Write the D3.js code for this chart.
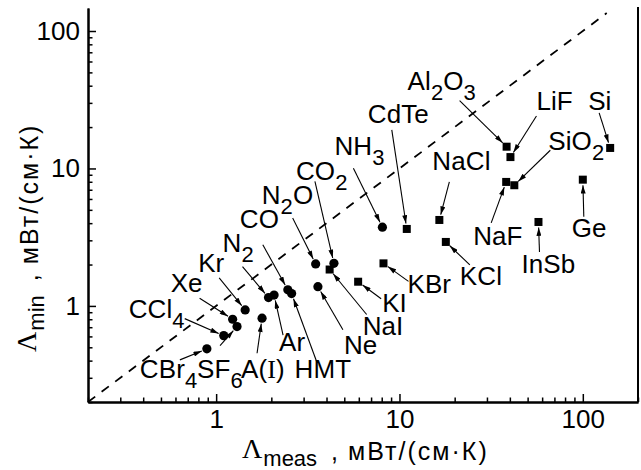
<!DOCTYPE html>
<html>
<head>
<meta charset="utf-8">
<script src="https://cdn.jsdelivr.net/npm/d3@7"></script>
<style>
  body { margin: 0; background: #fff; }
  svg { display: block; font-family: 'Liberation Sans', Arial, sans-serif; }
</style>
</head>
<body>
<svg id="chart" width="641" height="470"></svg>
<script>
// molecular / atomic solids (circles)
const gasNames = ['CBr_4', 'CCl_4', 'Xe', 'SF_6', 'Kr', 'A(I)', 'N_2', 'Ar', 'CO', 'HMT', 'N_2O', 'CO_2', 'Ne', 'NH_3'];
const gasMeas = [0.89, 1.10, 1.23, 1.30, 1.44, 1.78, 1.93, 2.07, 2.46, 2.58, 3.49, 4.39, 3.59, 8.07];
const gasMin = [0.487, 0.608, 0.80, 0.707, 0.935, 0.814, 1.15, 1.20, 1.31, 1.23, 2.02, 2.04, 1.38, 3.74];

// crystals (squares)
const crystalNames = ['NaI', 'KI', 'KBr', 'CdTe', 'NaCl', 'KCl', 'Al_2O_3', 'LiF', 'NaF', 'SiO_2', 'InSb', 'Ge', 'Si'];
const crystalMeas = [4.16, 5.95, 8.18, 10.96, 16.5, 17.9, 38.4, 40.3, 38.2, 42.3, 57.3, 100, 141];
const crystalMin = [1.84, 1.50, 2.04, 3.63, 4.22, 2.92, 14.4, 12.1, 7.98, 7.55, 4.08, 8.29, 14.1];

const xTickValues = [1, 10, 100];
const yTickValues = [1, 10, 100];
const diagonal = [0.2, 135];

// label placement: text origin (lx, ly) and arrow tail (tx, ty), px relative to the mark
const labelLayout = {
  'CBr_4': [-67, 29, -27, 11],
  'CCl_4': [-95, -18, -39, -17],
  'Xe': [-62, -27, -33, -21],
  'SF_6': [-40, 51, -17, 19],
  'Kr': [-47, -38, -26, -32],
  'A(I)': [-21, 60, -5, 35],
  'N_2': [-46, -46, -26, -31],
  'Ar': [5, 56, 9, 40],
  'CO': [-48, -62, -25, -45],
  'HMT': [3, 84, 25, 68],
  'N_2O': [-54, -60, -23, -46],
  'CO_2': [-38, -83, -19, -82],
  'Ne': [26, 67, 25, 43],
  'NH_3': [-48, -72, -29, -59],
  'NaI': [33, 65, 37, 45],
  'KI': [24, 30, 23, 17],
  'KBr': [24, 30, 25, 18],
  'CdTe': [-39, -106, -15, -99],
  'NaCl': [-7, -50, 10, -38],
  'KCl': [14, 43, 24, 23],
  'Al_2O_3': [-99, -57, -47, -46],
  'LiF': [26, -47, 26, -41],
  'NaF': [-33, 63, -15, 41],
  'SiO_2': [34, -35, 36, -35],
  'InSb': [-17, 51, 1, 30],
  'Ge': [-11, 57, 1, 37],
  'Si': [-22, -38, -11, -35],
};

const plot = { l: 88, r: 638, t: 8, b: 402 };
const fontSize = 26;
const subSize = 22;

const svg = d3.select('#chart');

const x = d3.scaleLog().domain([0.2, 200]).range([plot.l, plot.r]);
const y = d3.scaleLog().domain([0.2, 147]).range([plot.b, plot.t]);

const minorTicks = (scale, majors) => {
  const [lo, hi] = scale.domain();
  const out = [];
  [0.1, 1, 10, 100].forEach((dec) => {
    d3.range(1, 10).forEach((m) => {
      const v = +(dec * m).toPrecision(3);
      if (v >= lo && v <= hi && !majors.includes(v)) out.push(v);
    });
  });
  return out;
};

svg.append('defs')
  .append('marker')
  .attr('id', 'arrowhead')
  .attr('viewBox', '0 0 10 6')
  .attr('refX', 10)
  .attr('refY', 3)
  .attr('markerWidth', 9)
  .attr('markerHeight', 5)
  .attr('markerUnits', 'userSpaceOnUse')
  .attr('orient', 'auto')
  .append('path')
  .attr('d', 'M0,0L10,3L0,6Z')
  .attr('fill', '#000');

// diagonal y = x
svg.append('line')
  .attr('x1', x(diagonal[0]))
  .attr('y1', y(diagonal[0]))
  .attr('x2', x(diagonal[1]))
  .attr('y2', y(diagonal[1]))
  .attr('stroke', '#000')
  .attr('stroke-width', 1.8)
  .attr('stroke-dasharray', '9,8');

// axes
const styleAxis = (g) => {
  g.select('.domain').attr('stroke-width', 2);
  g.selectAll('.tick line').attr('stroke-width', 1.5);
  g.selectAll('.tick text')
    .attr('fill', '#000')
    .style('font-family', "'Liberation Sans', Arial, sans-serif")
    .style('font-size', '26px');
};

svg.append('g')
  .attr('transform', `translate(0,${plot.b})`)
  .call(d3.axisBottom(x).tickValues(minorTicks(x, xTickValues)).tickSize(-4.5).tickSizeOuter(0).tickFormat(''))
  .call(styleAxis);

svg.append('g')
  .attr('transform', `translate(0,${plot.b})`)
  .call(d3.axisBottom(x).tickValues(xTickValues).tickSize(-8).tickSizeOuter(0).tickPadding(8).tickFormat(d3.format('d')))
  .call(styleAxis);

svg.append('g')
  .attr('transform', `translate(${plot.l},0)`)
  .call(d3.axisLeft(y).tickValues(minorTicks(y, yTickValues)).tickSize(-4.5).tickSizeOuter(0).tickFormat(''))
  .call(styleAxis);

svg.append('g')
  .attr('transform', `translate(${plot.l},0)`)
  .call(d3.axisLeft(y).tickValues(yTickValues).tickSize(-8).tickSizeOuter(0).tickPadding(8).tickFormat(d3.format('d')))
  .call(styleAxis);

svg.append('line')
  .attr('x1', plot.r)
  .attr('x2', plot.r)
  .attr('y1', plot.t - 1)
  .attr('y2', plot.b)
  .attr('stroke', '#000')
  .attr('stroke-width', 2);

// axis titles
const appendTitle = (node, sub) => {
  const t = node.append('text').attr('fill', '#000');
  t.append('tspan')
    .style('font-family', "'Liberation Serif', 'Times New Roman', serif")
    .style('font-size', '28px')
    .text('Λ');
  t.append('tspan')
    .attr('dy', 8)
    .attr('dx', 1)
    .style('font-size', '22px')
    .text(sub);
  t.append('tspan')
    .attr('dy', -6)
    .attr('dx', 14)
    .style('font-size', '25px')
    .text(',');
  t.append('tspan')
    .attr('dx', 10)
    .style('font-size', '25px')
    .style('letter-spacing', '2px')
    .text('мВт/(см·К)');
  return t;
};

appendTitle(svg.append('g').attr('transform', 'translate(242,458)'), 'meas');
appendTitle(svg.append('g').attr('transform', 'translate(36,352) rotate(-90)'), 'min');

// labels with subscripts
const appendLabel = (node, name) => {
  const t = node.append('text')
    .attr('fill', '#000')
    .style('font-size', `${fontSize}px`)
    .style('letter-spacing', '0.1px');
  if (name === 'A(I)') {
    t.append('tspan').text('A(');
    t.append('tspan')
      .style('font-family', "'Liberation Serif', 'Times New Roman', serif")
      .text('I');
    t.append('tspan').text(')');
    return t;
  }
  const parts = name.split(/_(\d)/);
  let down = false;
  parts.forEach((p, i) => {
    if (!p) return;
    const isSub = i % 2 === 1;
    const ts = t.append('tspan').text(p);
    if (isSub) {
      ts.style('font-size', `${subSize}px`).attr('dy', down ? 0 : 10);
      down = true;
    } else {
      if (down) ts.attr('dy', -10);
      down = false;
    }
  });
  return t;
};

const drawGroup = (names, meas, mins, shape) => {
  const rows = names.map((name, i) => ({ name, xv: meas[i], yv: mins[i] }));
  const g = svg.append('g');

  rows.forEach((d) => {
    const px = x(d.xv);
    const py = y(d.yv);
    const [lx, ly, tx, ty] = labelLayout[d.name];
    appendLabel(g, d.name).attr('x', px + lx).attr('y', py + ly);

    const dx = -tx;
    const dy = -ty;
    const len = Math.hypot(dx, dy);
    const gap = 5.5;
    g.append('line')
      .attr('x1', px + tx)
      .attr('y1', py + ty)
      .attr('x2', px + tx + dx * (len - gap) / len)
      .attr('y2', py + ty + dy * (len - gap) / len)
      .attr('stroke', '#000')
      .attr('stroke-width', 1.1)
      .attr('marker-end', 'url(#arrowhead)');
  });

  if (shape === 'circle') {
    g.selectAll('circle')
      .data(rows)
      .enter()
      .append('circle')
      .attr('cx', (d) => x(d.xv))
      .attr('cy', (d) => y(d.yv))
      .attr('r', 4.6)
      .attr('fill', '#000');
  } else {
    g.selectAll('rect')
      .data(rows)
      .enter()
      .append('rect')
      .attr('x', (d) => x(d.xv) - 4)
      .attr('y', (d) => y(d.yv) - 4)
      .attr('width', 8)
      .attr('height', 8)
      .attr('fill', '#000');
  }
};

drawGroup(gasNames, gasMeas, gasMin, 'circle');
drawGroup(crystalNames, crystalMeas, crystalMin, 'square');
</script>
</body>
</html>
